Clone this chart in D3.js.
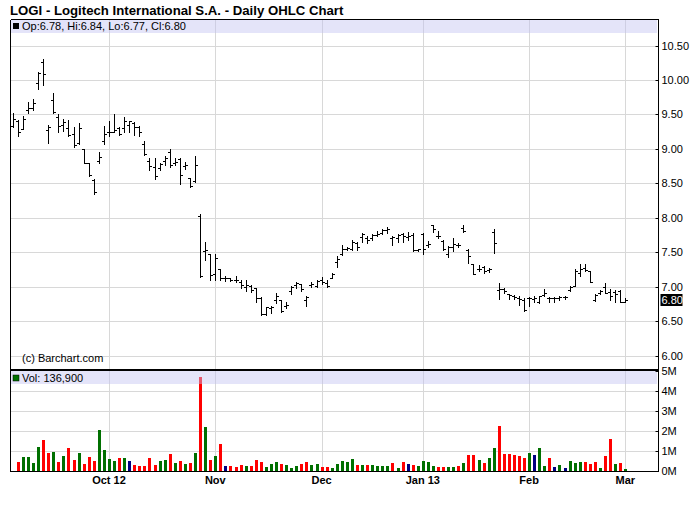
<!DOCTYPE html>
<html><head><meta charset="utf-8">
<script src="https://cdn.jsdelivr.net/npm/d3@7"></script>
<style>body{margin:0;background:#fff}svg{display:block;font-family:Arial,"Liberation Sans",sans-serif}</style>
</head><body><svg id="c" width="700" height="512"></svg>
<script>
const opens=[9.33,9.41,9.29,9.57,9.59,9.96,10.26,9.28,9.71,9.46,9.35,9.30,9.22,9.08,9.00,8.79,8.55,8.82,9.12,9.24,
9.25,9.30,9.30,9.35,9.38,9.31,9.07,8.82,8.74,8.72,8.82,8.95,8.79,8.85,8.75,8.57,8.53,8.02,7.52,7.47,
7.19,7.25,7.12,7.12,7.10,7.07,7.00,7.01,6.98,6.83,6.60,6.69,6.80,6.80,6.72,6.93,7.02,7.04,6.80,7.03,
7.01,7.10,7.05,7.13,7.36,7.48,7.54,7.55,7.63,7.72,7.70,7.70,7.75,7.78,7.82,7.70,7.70,7.76,7.72,7.75,
7.53,7.77,7.60,7.89,7.74,7.66,7.48,7.57,7.61,7.85,7.53,7.33,7.25,7.28,7.24,7.80,6.95,6.96,6.89,6.86,
6.84,6.80,6.83,6.82,6.78,6.88,6.84,6.83,6.83,6.85,6.95,7.01,7.20,7.27,7.22,6.80,6.91,7.00,6.92,6.92,
6.93,6.78];
const highs=[9.52,9.42,9.47,9.68,9.72,10.12,10.30,9.35,9.81,9.51,9.43,9.42,9.31,9.38,9.00,8.80,8.56,8.95,9.33,9.40,
9.51,9.31,9.46,9.41,9.39,9.33,9.12,8.86,8.86,8.79,8.89,9.00,8.86,8.86,8.81,8.58,8.90,8.06,7.65,7.48,
7.48,7.26,7.15,7.13,7.16,7.09,7.09,7.02,6.98,6.85,6.71,6.72,6.91,6.80,6.78,7.01,7.07,7.04,6.87,7.06,
7.10,7.14,7.09,7.20,7.45,7.60,7.58,7.68,7.65,7.78,7.73,7.77,7.81,7.83,7.86,7.73,7.77,7.78,7.79,7.78,
7.55,7.78,7.66,7.90,7.81,7.67,7.59,7.70,7.63,7.90,7.54,7.33,7.32,7.30,7.27,7.84,7.05,6.98,6.90,6.88,
6.86,6.83,6.85,6.86,6.87,6.96,6.85,6.85,6.87,6.87,7.01,7.26,7.33,7.33,7.22,6.90,6.95,7.05,6.96,6.95,
6.95,6.84];
const lows=[9.32,9.19,9.29,9.52,9.57,9.87,9.93,9.09,9.52,9.25,9.26,9.18,9.02,9.07,8.79,8.60,8.35,8.79,9.07,9.19,
9.25,9.20,9.25,9.25,9.20,9.18,8.91,8.69,8.56,8.69,8.76,8.74,8.76,8.49,8.71,8.45,8.52,7.14,7.38,7.10,
7.09,7.10,7.08,7.08,7.06,6.98,6.94,6.92,6.77,6.59,6.59,6.62,6.76,6.63,6.69,6.89,6.98,6.94,6.72,7.00,
7.00,7.04,7.00,7.12,7.29,7.46,7.53,7.53,7.53,7.65,7.63,7.67,7.73,7.77,7.78,7.60,7.65,7.65,7.67,7.52,
7.51,7.47,7.57,7.79,7.71,7.53,7.43,7.51,7.58,7.79,7.34,7.18,7.22,7.20,7.21,7.49,6.82,6.91,6.82,6.82,
6.74,6.64,6.72,6.77,6.76,6.87,6.78,6.78,6.80,6.82,6.94,7.01,7.16,7.23,7.06,6.79,6.89,6.91,6.80,6.78,
6.78,6.77];
const closes=[9.44,9.24,9.44,9.59,9.67,10.10,10.09,9.31,9.54,9.33,9.39,9.20,9.05,9.30,8.80,8.62,8.37,8.88,9.22,9.25,
9.28,9.22,9.40,9.40,9.32,9.24,8.93,8.75,8.61,8.78,8.87,8.76,8.81,8.62,8.77,8.46,8.77,7.15,7.53,7.17,
7.42,7.12,7.12,7.10,7.09,7.02,7.03,6.95,6.84,6.60,6.70,6.71,6.86,6.65,6.74,6.99,7.05,6.96,6.85,7.04,
7.08,7.06,7.01,7.18,7.40,7.55,7.56,7.65,7.58,7.77,7.68,7.75,7.77,7.82,7.84,7.72,7.75,7.73,7.73,7.53,
7.54,7.55,7.62,7.83,7.74,7.54,7.58,7.62,7.60,7.81,7.44,7.18,7.26,7.23,7.26,7.63,6.96,6.94,6.88,6.85,
6.82,6.66,6.83,6.83,6.86,6.91,6.83,6.83,6.85,6.85,7.00,7.22,7.25,7.24,7.06,6.88,6.93,6.91,6.87,6.89,
6.78,6.80];
// volume in millions of shares (first day not shown)
const volumes=[null,0.47,0.72,0.72,0.42,1.22,1.58,0.92,0.97,0.47,0.77,1.17,0.57,0.92,0.37,0.72,0.52,2.08,1.07,0.62,
0.52,0.67,0.67,0.52,0.32,0.27,0.27,0.67,0.32,0.52,0.57,0.87,0.42,0.52,0.37,0.42,0.92,4.70,2.23,0.57,
0.77,1.38,0.27,0.27,0.22,0.32,0.27,0.27,0.57,0.47,0.22,0.37,0.47,0.37,0.32,0.17,0.27,0.37,0.47,0.32,
0.37,0.22,0.22,0.17,0.37,0.52,0.47,0.62,0.32,0.32,0.32,0.32,0.27,0.27,0.27,0.42,0.17,0.47,0.37,0.32,
0.27,0.52,0.47,0.27,0.22,0.22,0.22,0.22,0.27,0.42,0.82,0.82,0.57,0.42,0.67,1.17,2.28,0.87,0.87,0.82,
0.77,0.67,0.92,0.82,1.17,0.27,0.67,0.22,0.32,0.17,0.52,0.42,0.47,0.47,0.37,0.47,0.17,0.77,1.63,0.37,
0.42,0.1369];
// day direction vs previous close: 1 up, -1 down, 0 unchanged
const volDir=[0,-1,1,1,1,1,-1,-1,1,-1,1,-1,-1,1,-1,-1,-1,1,1,1,
1,-1,1,0,-1,-1,-1,-1,-1,1,1,-1,1,-1,1,-1,1,-1,1,-1,
1,-1,0,-1,-1,-1,1,-1,-1,-1,1,1,1,-1,1,1,1,-1,-1,1,
1,-1,-1,1,1,1,1,1,-1,1,-1,1,1,1,1,-1,1,-1,0,-1,
1,1,1,1,-1,-1,1,1,-1,1,-1,-1,1,-1,1,1,-1,-1,-1,-1,
-1,-1,1,0,1,1,-1,0,1,0,1,1,1,-1,-1,-1,1,-1,-1,1,
-1,1];
const monthTickIdx=[19,40,61,81,102,121];
const monthLabels=["Oct 12","Nov","Dec","Jan 13","Feb","Mar"];
const priceTicks=[6.0,6.5,7.0,7.5,8.0,8.5,9.0,9.5,10.0,10.5];
const volTicks=[0,1,2,3,4,5];
const title="LOGI - Logitech International S.A. - Daily OHLC Chart";
const lastIdx=opens.length-1;

const svg=d3.select("#c");
const L=10.5,R=658.5,T=19.5,SEP=370,B=471.5;
const x=d3.scaleLinear().domain([0,121]).range([12.8,625.3]);
const y=d3.scaleLinear().domain([6,10.5]).range([355.5,45.5]);
const yv=d3.scaleLinear().domain([0,5]).range([471.3,371.3]);
const px=v=>Math.round(v)+0.5;
const GRID="#d8d8d8";
const BAND="rgba(196,196,242,0.45)";

// gridlines
const g=svg.append("g");
g.selectAll(".hp").data(priceTicks).join("line").attr("x1",L).attr("x2",R).attr("y1",d=>px(y(d))).attr("y2",d=>px(y(d))).attr("stroke",GRID);
g.selectAll(".hv").data(volTicks.filter(d=>d>0&&d<5)).join("line").attr("x1",L).attr("x2",R).attr("y1",d=>px(yv(d))).attr("y2",d=>px(yv(d))).attr("stroke",GRID);
g.selectAll(".vg").data(monthTickIdx).join("line").attr("x1",d=>px(x(d))).attr("x2",d=>px(x(d))).attr("y1",T).attr("y2",B).attr("stroke",GRID);

// volume bars
const colorOf=d=>d>0?"#007000":(d<0?"#ff0000":"#000080");
svg.append("g").selectAll("rect").data(volumes.map((v,i)=>({v,i})).filter(d=>d.v!=null)).join("rect")
 .attr("x",d=>Math.round(x(d.i))-1).attr("width",3)
 .attr("y",d=>Math.round(yv(d.v))).attr("height",d=>Math.round(yv(0))-Math.round(yv(d.v)))
 .attr("fill",d=>colorOf(volDir[d.i]));

// OHLC bars
const bars=svg.append("g").attr("stroke","#000").attr("stroke-width",1).attr("shape-rendering","crispEdges");
opens.forEach((o,i)=>{
  const cx=Math.round(x(i));
  bars.append("line").attr("x1",cx+0.5).attr("x2",cx+0.5).attr("y1",Math.round(y(highs[i]))).attr("y2",Math.round(y(lows[i]))+1);
  bars.append("line").attr("x1",cx-2).attr("x2",cx+1).attr("y1",px(y(o))).attr("y2",px(y(o)));
  bars.append("line").attr("x1",cx).attr("x2",cx+3).attr("y1",px(y(closes[i]))).attr("y2",px(y(closes[i])));
});

// header bands (translucent, over data)
svg.append("rect").attr("x",11).attr("y",20).attr("width",646).attr("height",13).attr("fill",BAND);
svg.append("rect").attr("x",11).attr("y",371).attr("width",646).attr("height",13).attr("fill",BAND);

// frame
const fr=svg.append("g").attr("stroke","#000").attr("shape-rendering","crispEdges");
fr.append("line").attr("x1",L).attr("x2",R).attr("y1",T).attr("y2",T);
fr.append("line").attr("x1",L).attr("x2",L).attr("y1",T).attr("y2",B);
fr.append("line").attr("x1",R).attr("x2",R).attr("y1",T).attr("y2",B);
fr.append("line").attr("x1",L).attr("x2",R).attr("y1",SEP).attr("y2",SEP).attr("stroke-width",2);
fr.append("line").attr("x1",L).attr("x2",R).attr("y1",B).attr("y2",B);

// right price axis
const ax=svg.append("g").attr("transform",`translate(${R},0)`);
ax.selectAll("line").data(priceTicks).join("line").attr("x1",-3).attr("x2",0).attr("y1",d=>px(y(d))).attr("y2",d=>px(y(d))).attr("stroke","#000");
ax.selectAll("text").data(priceTicks).join("text").attr("x",3).attr("y",d=>y(d)+4).attr("font-size",11).attr("fill","#000").text(d3.format(".2f"));
// last price marker
const lc=closes[lastIdx];
ax.append("rect").attr("x",2).attr("y",Math.round(y(lc))-6).attr("width",22).attr("height",12).attr("fill","#000");
ax.append("text").attr("x",3).attr("y",y(lc)+4).attr("font-size",11).attr("fill","#fff").text(d3.format(".2f")(lc));

// right volume axis
const avx=svg.append("g").attr("transform",`translate(${R},0)`);
avx.selectAll("line").data(volTicks).join("line").attr("x1",-3).attr("x2",0).attr("y1",d=>px(yv(d))).attr("y2",d=>px(yv(d))).attr("stroke","#000");
avx.selectAll("text").data(volTicks).join("text").attr("x",3).attr("y",d=>yv(d)+4).attr("font-size",11).attr("fill","#000").text(d=>d+"M");

// month labels
svg.append("g").selectAll("text").data(monthTickIdx).join("text")
 .attr("x",d=>x(d)).attr("y",484).attr("text-anchor","middle").attr("font-size",11).attr("font-weight","bold").attr("fill","#000")
 .text((d,i)=>monthLabels[i]);

// title & headers
svg.append("text").attr("x",10).attr("y",15).attr("font-size",13.2).attr("font-weight","bold").attr("fill","#000").text(title);
svg.append("rect").attr("x",13).attr("y",23).attr("width",6).attr("height",6).attr("fill","#000");
const f=d3.format(".2f");
svg.append("text").attr("x",22).attr("y",30).attr("font-size",11).attr("fill","#000")
 .text(`Op:${f(opens[lastIdx])}, Hi:${f(highs[lastIdx])}, Lo:${f(lows[lastIdx])}, Cl:${f(closes[lastIdx])}`);
svg.append("rect").attr("x",13).attr("y",375).attr("width",6).attr("height",6).attr("fill","#007000").attr("stroke","#000").attr("stroke-width",0.5);
svg.append("text").attr("x",22).attr("y",382).attr("font-size",11).attr("fill","#000")
 .text("Vol: "+d3.format(",")(Math.round(volumes[lastIdx]*1e6)));
svg.append("text").attr("x",22).attr("y",362).attr("font-size",11).attr("fill","#000").text("(c) Barchart.com");
</script></body></html>
